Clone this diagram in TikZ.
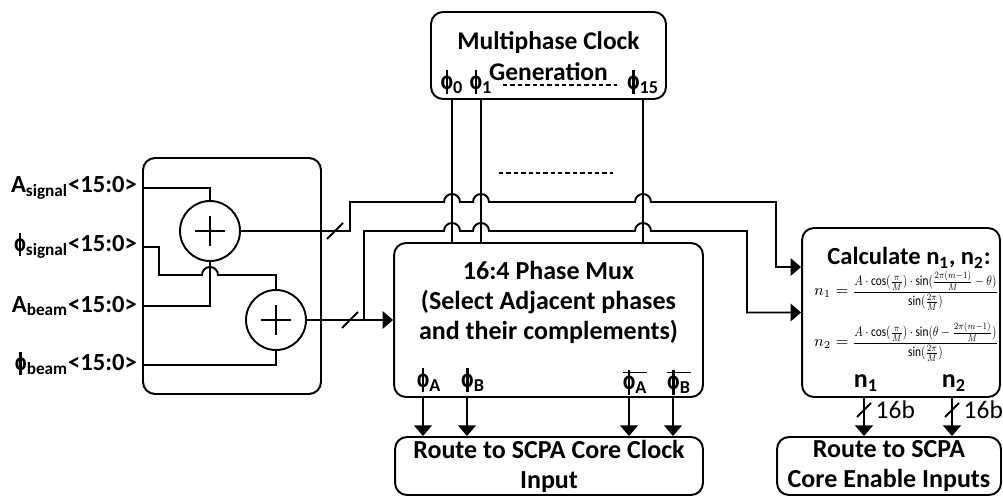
\documentclass[tikz,border=0pt]{standalone}
\usepackage{amsmath}
\usepackage{graphicx}
\usepackage{fontspec}
\setmainfont{Carlito}
\usetikzlibrary{arrows.meta}

\newcommand{\ph}{\ooalign{\hfil\scalebox{0.9}[1.05]{o}\hfil\cr\hfil\rule[-0.18em]{0.11em}{0.93em}\hfil\cr}}
\newcommand{\ovl}[1]{$\overline{\mbox{#1}}$}
\newcommand{\eqn}[2]{{\fontsize{9}{10}\selectfont$#1={}$}\resizebox*{2.9cm}{0.78cm}{$\dfrac{#2}{\sin(\frac{2\pi}{M})}$}}

\begin{document}
\begin{tikzpicture}[x=0.02cm,y=0.02cm,line width=1.1pt,
  box/.style={draw,rounded corners=0.24cm,inner sep=0pt},
  txt/.style={font=\bfseries\fontsize{14.8}{17}\selectfont,align=center,inner sep=1pt},
  lbl/.style={font=\bfseries\fontsize{14}{15}\selectfont,anchor=east,inner sep=3pt},
  adder/.style={draw,circle,minimum size=1.2cm,inner sep=0pt},
  >={Triangle[width=10pt,length=6pt]}]

\useasboundingbox (0,0) rectangle (1003,497);

% boxes
\node[box,minimum width=3.56cm,minimum height=4.72cm] (addblk) at (232,221) {};
\node[box,minimum width=4.7cm,minimum height=1.74cm] (clkgen) at (548.5,441.5) {};
\node[box,minimum width=6.18cm,minimum height=3.08cm] (mux) at (548.5,177) {};
\node[box,minimum width=3.96cm,minimum height=3.38cm] (calc) at (901,184.5) {};
\node[box,txt,minimum width=6.16cm,minimum height=1.16cm] (clkroute) at (549,31) {Route to SCPA Core Clock\\Input};
\node[box,txt,minimum width=4.48cm,minimum height=1.16cm] (enroute) at (889,31) {Route to SCPA\\Core Enable Inputs};

% texts
\node[txt,font=\bfseries\fontsize{14.5}{18}\selectfont] (clktxt) at (548.5,441) {Multiphase Clock\\Generation};
\node[txt] (muxtxt) at (548.5,194.5) {16:4 Phase Mux\\(Select Adjacent phases\\and their complements)};
\node[txt,font=\bfseries\fontsize{14}{17}\selectfont] (calctxt) at (909,239) {Calculate n\textsubscript{1}, n\textsubscript{2}:};
\node[inner sep=0pt] (eq1) at (906,206) {\eqn{n_1}{A\cdot\cos(\frac{\pi}{M})\cdot\sin(\frac{2\pi(m-1)}{M}-\theta)}};
\node[inner sep=0pt] (eq2) at (906,155) {\eqn{n_2}{A\cdot\cos(\frac{\pi}{M})\cdot\sin(\theta-\frac{2\pi(m-1)}{M})}};

% adders
\node[adder] (add1) at (210,266) {};
\node[adder] (add2) at (276,177) {};
\foreach \a in {add1,add2}
  \draw (\a.center) ++(-15,0) -- ++(30,0) (\a.center) ++(0,-15) -- ++(0,30);

% inputs
\node[lbl] (asig) at (143,309) {A\textsubscript{signal}<15:0>};
\node[lbl] (psig) at (143,250) {\ph\textsubscript{signal}<15:0>};
\node[lbl] (abeam) at (143,191) {A\textsubscript{beam}<15:0>};
\node[lbl] (pbeam) at (143,132) {\ph\textsubscript{beam}<15:0>};

\draw (asig.east) -| (add1.north);
\draw (psig.east) -- (159,250) |- (202,222) arc[start angle=180,end angle=0,radius=0.16cm] -| (add2.north);
\draw (abeam.east) -| (add1.south);
\draw (pbeam.east) -| (add2.south);

% clock phases
\node[txt] (p0) at (452,412) {\ph\textsubscript{0}};
\node[txt] (p1) at (481,412) {\ph\textsubscript{1}};
\node[txt] (p15) at (643,412) {\ph\textsubscript{15}};
\draw[dash pattern=on 2.5pt off 1.7pt] (503,412) -- (617,412);
\draw[dash pattern=on 2.5pt off 1.7pt] (499,324) -- (613,324);
\foreach \p in {p0,p1,p15}
  \draw (clkgen.south -| \p) -- (mux.north -| \p);

% adder outputs
\coordinate (br) at (364,177);
\coordinate (cin1) at ([yshift=0.91cm]calc.west);
\draw[->] (add2.east) -- (mux.west);
\draw[->] (add1.east) -| (350,295) -- (444,295) arc[start angle=180,end angle=0,radius=0.16cm]
  -- (473,295) arc[start angle=180,end angle=0,radius=0.16cm]
  -- (635,295) arc[start angle=180,end angle=0,radius=0.16cm] -- (776,295) |- (cin1);
\draw[->] (br) -- (364,266) -- (444,266) arc[start angle=180,end angle=0,radius=0.16cm]
  -- (473,266) arc[start angle=180,end angle=0,radius=0.16cm]
  -- (635,266) arc[start angle=180,end angle=0,radius=0.16cm] -- (747,266) |- (calc.west);
\draw (335,266) ++(-8,-8) -- ++(16,16);
\draw (350,177) ++(-8,-8) -- ++(16,16);

% mux outputs
\node[txt] (pa) at (429,114) {\ph\textsubscript{A}};
\node[txt] (pb) at (473,114) {\ph\textsubscript{B}};
\node[txt] (npa) at (635,114) {\ovl{\ph\textsubscript{A}}};
\node[txt] (npb) at (679,114) {\ovl{\ph\textsubscript{B}}};
\foreach \n in {pa,pb,npa,npb}
  \draw[->] ([xshift=-0.12cm]\n |- mux.south) -- ([xshift=-0.12cm]\n |- clkroute.north);

% calc outputs
\node[txt] (n1) at (866,114) {n\textsubscript{1}};
\node[txt] (n2) at (954,114) {n\textsubscript{2}};
\foreach \n in {n1,n2} {
  \draw[->] ([xshift=-0.04cm]\n |- calc.south) -- ([xshift=-0.04cm]\n |- enroute.north);
  \draw ([xshift=-0.04cm]\n |- 0,87) ++(-7,-7) -- ++(14,14);
}
\node[anchor=west,font=\fontsize{14.5}{15}\selectfont,inner sep=1pt] (w1) at (873,87) {16b};
\node[anchor=west,font=\fontsize{14.5}{15}\selectfont,inner sep=1pt] (w2) at (961,87) {16b};

\end{tikzpicture}
\end{document}
